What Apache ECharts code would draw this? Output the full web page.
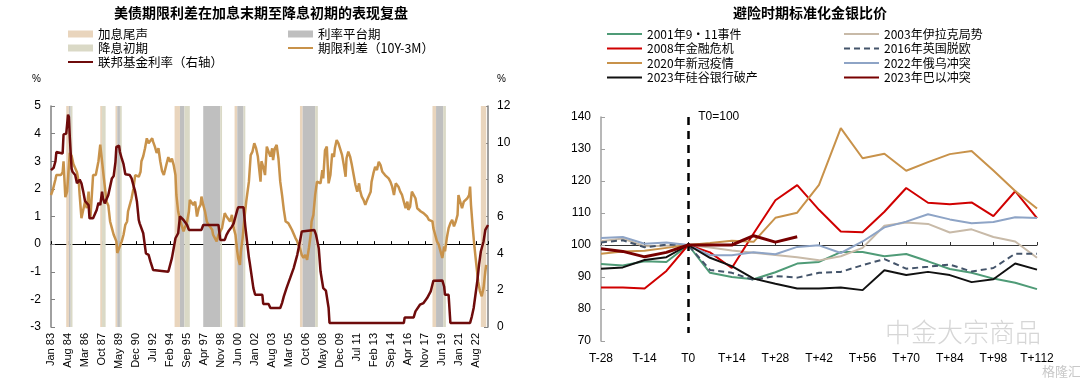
<!DOCTYPE html>
<html><head><meta charset="utf-8">
<script src="https://cdn.jsdelivr.net/npm/echarts@6/dist/echarts.min.js"></script>
<style>html,body{margin:0;padding:0;background:#fff}#c{width:1080px;height:382px}</style>
</head><body><div id="c"></div>
<script>
// ---------- Left chart data (x = months since Jan 1983) ----------
const leftTickLabels = ['Jan 83','Aug 84','Mar 86','Oct 87','May 89','Dec 90','Jul 92','Feb 94','Sep 95','Apr 97','Nov 98','Jun 00','Jan 02','Aug 03','Mar 05','Oct 06','May 08','Dec 09','Jul 11','Feb 13','Sep 14','Apr 16','Nov 17','Jun 19','Jan 21','Aug 22'];
const hikeEndBands = [[17,20],[55,57],[72,74],[138,144],[205,208],[278,281],[426,430],[480,486]];
const plateauBands = [[20,22],[74,77],[144,149],[170,189],[208,215],[281,295],[430,438]];
const cutStartBands = [[22,24],[57,61],[77,79],[149,155],[189,191],[215,217],[295,298],[438,441]];
const termSpread = [[0,1.78],[2,1.96],[5,2.35],[6,2.5],[8,2.55],[11,2.5],[13,2.6],[14,3.0],[16,1.7],[18,1.9],[19,2.4],[21,3.3],[23,3.2],[25,2.9],[27,2.95],[29,2.6],[31,2.25],[32,1.78],[34,0.94],[35,0.88],[38,1.54],[40,1.3],[42,1.9],[43,1.2],[44,0.94],[47,2.5],[50,2.5],[53,3.0],[55,3.6],[57,3.0],[59,2.4],[60,2.4],[62,1.54],[64,1.4],[66,0.82],[68,0.58],[70,0.34],[73,0.1],[74,-0.32],[76,-0.15],[79,0.1],[81,0.34],[83,0.7],[85,0.82],[86,1.18],[88,1.42],[90,1.66],[92,2.0],[94,2.5],[96,2.56],[98,2.44],[100,2.62],[101,3.0],[103,3.18],[105,3.47],[107,3.83],[109,3.65],[111,3.59],[113,3.83],[114,3.71],[116,3.53],[118,3.3],[120,3.47],[122,3.0],[124,2.65],[126,2.5],[127,2.44],[129,2.9],[131,3.15],[133,2.98],[135,3.1],[137,2.86],[139,2.5],[140,1.78],[142,1.18],[144,0.88],[146,0.82],[148,0.46],[150,0.4],[152,0.82],[154,1.18],[155,1.6],[157,1.66],[159,1.42],[161,1.54],[163,1.0],[165,1.3],[167,1.42],[168,1.72],[170,1.42],[172,1.18],[174,0.82],[176,0.7],[178,0.64],[180,0.52],[181,0.34],[183,0.22],[185,0.1],[187,0.34],[189,0.46],[191,0.58],[193,0.94],[194,1.12],[196,1.0],[198,0.94],[200,0.82],[202,1.06],[204,0.58],[206,0.34],[208,-0.26],[209,-0.5],[211,-0.75],[212,-0.27],[214,0.22],[216,0.94],[218,1.54],[219,1.78],[221,2.26],[223,3.22],[225,3.35],[227,3.65],[229,3.47],[231,3.17],[232,2.86],[234,2.26],[235,3.0],[237,2.8],[239,2.5],[241,3.53],[243,3.35],[245,3.17],[247,3.47],[248,3.04],[250,3.47],[252,3.59],[254,3.1],[256,2.26],[258,1.78],[260,1.24],[262,0.82],[263,0.88],[265,0.76],[267,0.64],[269,0.52],[271,0.46],[273,0.22],[275,0.1],[276,-0.02],[278,-0.14],[280,-0.39],[282,-0.5],[284,-0.39],[286,-0.57],[288,-0.14],[290,0.34],[291,0.82],[293,1.06],[295,1.78],[297,2.26],[299,2.32],[301,2.2],[303,2.68],[304,2.38],[306,3.4],[308,3.53],[310,2.2],[312,2.5],[314,3.28],[316,3.16],[317,3.47],[319,3.77],[321,3.65],[323,3.65],[325,3.23],[327,2.86],[329,2.44],[330,3.11],[332,3.35],[334,3.17],[336,2.86],[338,2.5],[340,2.14],[342,1.9],[344,2.2],[345,1.96],[347,1.72],[349,1.6],[351,1.42],[353,1.6],[355,1.66],[357,1.9],[358,2.26],[360,2.56],[362,2.8],[364,2.68],[366,2.98],[368,2.86],[370,2.62],[372,2.68],[373,2.5],[375,2.44],[377,2.38],[379,2.26],[381,2.08],[383,1.78],[385,2.2],[386,2.26],[388,2.08],[390,1.9],[392,1.78],[394,1.54],[396,1.3],[398,1.54],[399,1.24],[401,1.36],[403,1.9],[405,1.96],[407,1.66],[409,1.3],[411,1.24],[413,1.18],[414,1.24],[416,1.12],[418,1.06],[420,1.0],[422,0.88],[424,0.82],[426,0.82],[427,0.58],[429,0.34],[431,0.1],[433,-0.02],[435,-0.26],[437,-0.5],[439,-0.08],[440,-0.26],[442,0.22],[444,0.58],[446,0.76],[448,0.88],[450,0.64],[452,0.82],[454,1.06],[455,1.78],[457,1.54],[459,1.3],[461,1.54],[463,1.48],[465,1.66],[467,1.78],[468,2.08],[469,1.42],[471,0.58],[473,-0.14],[475,-0.75],[477,-1.35],[479,-1.7],[481,-1.89],[483,-1.59],[485,-0.99],[486,-0.75]];
const fedFunds = [[0,8.52],[3,8.65],[5,9.0],[6,9.5],[13,9.42],[14,10.45],[17,10.5],[18,11.0],[19,11.53],[20,11.4],[21,10.3],[23,8.6],[24,8.43],[25,8.47],[27,8.25],[29,7.8],[32,8.0],[34,7.8],[36,7.35],[38,6.84],[42,6.62],[43,5.9],[47,5.9],[51,6.35],[53,6.75],[55,6.62],[57,7.35],[58,7.0],[60,6.71],[62,6.62],[64,7.17],[68,8.07],[70,8.2],[72,8.97],[73,9.78],[76,9.84],[77,9.5],[79,9.15],[81,8.84],[83,8.29],[88,8.25],[90,8.07],[92,7.7],[94,7.35],[96,6.8],[98,5.81],[99,5.63],[103,5.09],[106,4.0],[109,3.92],[111,3.56],[114,3.1],[116,3.0],[131,3.0],[135,3.74],[137,4.28],[139,4.82],[142,5.09],[144,6.0],[148,5.81],[152,5.54],[154,5.27],[168,5.27],[170,5.54],[187,5.54],[189,4.73],[194,4.73],[196,5.0],[198,5.18],[202,5.45],[204,5.63],[208,6.35],[209,6.5],[215,6.5],[217,5.45],[221,3.77],[222,3.47],[226,2.11],[228,1.75],[236,1.75],[237,1.25],[243,1.25],[245,1.03],[256,1.03],[258,1.3],[260,1.66],[263,2.11],[267,2.65],[271,3.2],[275,3.92],[278,4.64],[280,5.18],[282,5.27],[294,5.27],[296,5.0],[299,4.28],[301,3.01],[304,2.11],[307,1.97],[309,1.97],[310,1.03],[311,0.22],[394,0.22],[395,0.52],[405,0.52],[407,0.85],[412,1.21],[416,1.3],[420,1.57],[424,1.93],[427,2.51],[437,2.53],[439,2.2],[440,1.75],[444,1.75],[446,0.22],[468,0.22],[470,0.58],[472,1.03],[474,1.75],[476,2.47],[478,3.38],[480,4.1],[483,4.64],[485,5.27],[488,5.54]];

// ---------- Right chart data ----------
const tDays = ['T-28','T-21','T-14','T-7','T0','T+7','T+14','T+21','T+28','T+35','T+42','T+49','T+56','T+63','T+70','T+77','T+84','T+91','T+98','T+105','T+112'];
const sept11   = [94.1,93.6,94.9,94.7,100,91.3,90.0,89.3,91.5,94.2,94.7,97.8,97.8,96.5,97.2,94.9,92.5,91.3,89.5,88.2,86.2];
const iraq     = [101.2,102.0,99.6,99.8,100,99.2,98.3,97.6,96.9,96.2,95.2,96.5,99.1,106.0,107.0,106.6,103.9,104.9,102.5,101.1,96.0];
const gfc      = [86.7,86.7,86.4,91.9,100,97.7,92.8,103.6,114.0,118.7,111.0,104.2,104.0,110.4,117.8,113.2,112.7,113.3,109.0,116.8,108.4];
const brexit   = [100.8,101.5,99.3,100.1,100,92.2,91.3,89.1,90.3,89.8,91.3,91.6,93.7,95.6,92.6,93.2,93.9,91.7,92.8,97.3,97.3];
const covid    = [97.3,98.0,98.2,99.1,100,100.6,101.3,101.0,108.5,110.1,118.8,136.5,127.1,128.5,123.2,125.9,128.4,129.4,123.3,116.9,111.4];
const ukraine  = [102.2,102.5,100.4,100.8,100,96.8,96.8,97.7,97.1,99.4,99.9,97.5,101.1,105.5,107.3,109.6,108.0,106.8,107.2,108.7,108.4];
const svb      = [92.6,93.0,95.3,96.2,100,96.0,93.4,89.5,87.9,86.4,86.4,86.7,85.9,92.1,90.6,91.6,90.6,88.4,89.3,94.2,92.3];
const israel   = [98.8,98.0,96.3,97.7,100,100,100,102.9,100.9,102.6,null,null,null,null,null,null,null,null,null,null,null];

const FONT = "'Liberation Sans', Arial, 'Noto Sans CJK SC', sans-serif";
const CJK = "'Noto Sans CJK SC', 'Liberation Sans', sans-serif";
const chart = echarts.init(document.getElementById('c'), null, {renderer: 'canvas'});

function bandSeries(name, color, bands) {
  return {
    name, type: 'line', data: [], xAxisIndex: 0, yAxisIndex: 0, color: color,
    itemStyle: {color}, lineStyle: {color}, showSymbol: false, silent: true, z: 1,
    markArea: {silent: true, itemStyle: {color, opacity: 1}, data: bands.map(b => [{xAxis: b[0]}, {xAxis: b[1]}])}
  };
}
function rLine(name, data, color, width, dash, z) {
  return {name, type: 'line', data, xAxisIndex: 2, yAxisIndex: 2, showSymbol: false, symbol: 'none',
    color, lineStyle: {color, width, type: dash || 'solid'}, z: z || 3, connectNulls: false};
}
const noSym = name => ({name, itemStyle: {opacity: 0}});
const legText = {fontFamily: CJK, fontSize: 12.5, color: '#000', lineHeight: 14};

const option = {
  animation: false,
  textStyle: {fontFamily: FONT},
  title: [
    {text: '美债期限利差在加息末期至降息初期的表现复盘', left: 256, top: 1, textAlign: 'center',
     textStyle: {fontFamily: CJK, fontSize: 14, fontWeight: 'bold', color: '#000'}},
    {text: '避险时期标准化金银比价', left: 805, top: 1, textAlign: 'center',
     textStyle: {fontFamily: CJK, fontSize: 14, fontWeight: 'bold', color: '#000'}}
  ],
  legend: [
    {left: 67, top: 27, padding: 0, orient: 'vertical', itemWidth: 25, itemHeight: 7, itemGap: 0, selectedMode: false,
     textStyle: legText,
     data: [{name: '加息尾声', icon: 'rect'}, {name: '降息初期', icon: 'rect'}, noSym('联邦基金利率（右轴）')]},
    {left: 287, top: 27, padding: 0, orient: 'vertical', itemWidth: 25, itemHeight: 7, itemGap: 0, selectedMode: false,
     textStyle: legText,
     data: [{name: '利率平台期', icon: 'rect'}, noSym('期限利差（10Y-3M）')]},
    {left: 606, top: 27, padding: 0, orient: 'vertical', itemWidth: 35, itemHeight: 7, itemGap: 0.5, selectedMode: false,
     textStyle: {fontFamily: CJK, fontSize: 12, color: '#000', lineHeight: 14},
     data: ['2001年9・11事件', '2008年金融危机', '2020年新冠疫情', '2023年硅谷银行破产'].map(noSym)},
    {left: 843, top: 27, padding: 0, orient: 'vertical', itemWidth: 35, itemHeight: 7, itemGap: 0.5, selectedMode: false,
     textStyle: {fontFamily: CJK, fontSize: 12, color: '#000', lineHeight: 14},
     data: ['2003年伊拉克局势', '2016年英国脱欧', '2022年俄乌冲突', '2023年巴以冲突'].map(noSym)}
  ],
  grid: [
    {left: 51, top: 106, width: 437, height: 221},
    {left: 601, top: 117, width: 436, height: 224}
  ],
  xAxis: [
    {gridIndex: 0, type: 'value', min: 0, max: 488, interval: 19,
     axisLine: {show: true, onZero: true, onZeroAxisIndex: 0, lineStyle: {color: '#000', width: 1}},
     axisTick: {show: true, inside: true, length: 3, lineStyle: {color: '#000'}},
     axisLabel: {show: false}, splitLine: {show: false}},
    {gridIndex: 0, type: 'value', min: 0, max: 488, interval: 19, position: 'bottom',
     axisLine: {show: false, onZero: false}, axisTick: {show: false}, splitLine: {show: false},
     axisLabel: {show: true, rotate: 90, margin: 6, fontSize: 11, color: '#000', fontFamily: FONT,
       showMaxLabel: false, hideOverlap: false,
       formatter: v => (v % 19 === 0 && leftTickLabels[v / 19] !== undefined) ? leftTickLabels[v / 19] : ''}},
    {gridIndex: 1, type: 'category', data: tDays, boundaryGap: false,
     axisLine: {show: true, onZero: true, onZeroAxisIndex: 3, lineStyle: {color: '#333', width: 1}},
     axisTick: {show: true, inside: true, length: 3, interval: 1, lineStyle: {color: '#333'}},
     axisLabel: {show: false}, splitLine: {show: false}},
    {gridIndex: 1, type: 'category', data: tDays, boundaryGap: false, position: 'bottom',
     axisLine: {show: false, onZero: false}, axisTick: {show: false}, splitLine: {show: false},
     axisLabel: {show: true, interval: 1, margin: 12, fontSize: 12, color: '#000', fontFamily: FONT}}
  ],
  yAxis: [
    {gridIndex: 0, type: 'value', min: -3, max: 5, interval: 1, position: 'left',
     name: '%', nameLocation: 'end', nameGap: 22,
     nameTextStyle: {fontSize: 10, color: '#000', align: 'right', padding: [0, 10, 0, 0]},
     axisLine: {show: true, onZero: false, lineStyle: {color: '#808080', width: 1.5}},
     axisTick: {show: true, inside: true, length: 4, lineStyle: {color: '#808080'}},
     axisLabel: {fontSize: 12, color: '#000', margin: 10}, splitLine: {show: false}},
    {gridIndex: 0, type: 'value', min: 0, max: 12, interval: 2, position: 'right',
     name: '%', nameLocation: 'end', nameGap: 22,
     nameTextStyle: {fontSize: 10, color: '#000', align: 'left', padding: [0, 0, 0, 9]},
     axisLine: {show: true, onZero: false, lineStyle: {color: '#808080', width: 1.5}},
     axisTick: {show: true, inside: true, length: 4, lineStyle: {color: '#808080'}},
     axisLabel: {fontSize: 12, color: '#000', margin: 9}, splitLine: {show: false}},
    {gridIndex: 1, type: 'value', min: 70, max: 140, interval: 10, position: 'left',
     axisLine: {show: true, onZero: false, lineStyle: {color: '#A0A0A0', width: 1.5}},
     axisTick: {show: true, inside: true, length: 4, lineStyle: {color: '#A0A0A0'}},
     axisLabel: {fontSize: 12, color: '#000', margin: 10}, splitLine: {show: false}},
    {gridIndex: 1, type: 'value', min: -30, max: 40, show: false,
     axisLine: {onZero: false}, splitLine: {show: false}}
  ],
  series: [
    bandSeries('加息尾声', '#E9D5BD', hikeEndBands),
    bandSeries('利率平台期', '#BFBFBF', plateauBands),
    bandSeries('降息初期', '#DAD9C6', cutStartBands),
    {name: '期限利差（10Y-3M）', type: 'line', data: termSpread, xAxisIndex: 0, yAxisIndex: 0,
     showSymbol: false, symbol: 'none', color: '#C8924A', lineStyle: {color: '#C8924A', width: 2.5}, z: 3},
    {name: '联邦基金利率（右轴）', type: 'line', data: fedFunds, xAxisIndex: 0, yAxisIndex: 1,
     showSymbol: false, symbol: 'none', color: '#6E0B0B', lineStyle: {color: '#6E0B0B', width: 2.5}, z: 4},

    Object.assign(rLine('2001年9・11事件', sept11, '#4F9B77', 2), {
      markLine: {silent: true, symbol: 'none', label: {show: false},
        lineStyle: {color: '#000', width: 2.5, type: [8, 6]},
        data: [[{coord: ['T0', 140]}, {coord: ['T0', 72.5]}]]},
      markPoint: {silent: true, symbol: 'circle', symbolSize: 0,
        label: {show: true, position: 'right', distance: 10, formatter: 'T0=100', color: '#000', fontSize: 12, fontFamily: FONT},
        data: [{coord: ['T0', 140]}]}
    }),
    rLine('2003年伊拉克局势', iraq, '#C8BAA8', 2),
    rLine('2008年金融危机', gfc, '#D00000', 2),
    rLine('2016年英国脱欧', brexit, '#44546A', 2, [6, 4]),
    rLine('2020年新冠疫情', covid, '#C8924A', 2),
    rLine('2022年俄乌冲突', ukraine, '#8EA4C6', 2),
    rLine('2023年硅谷银行破产', svb, '#111111', 2),
    rLine('2023年巴以冲突', israel, '#780000', 3, null, 5)
  ],
  graphic: [
    {type: 'text', left: 885, top: 319, silent: true,
     style: {text: '中金大宗商品', fill: '#D6D6D6', font: '300 26px ' + CJK}},
    {type: 'text', left: 1042, top: 365, silent: true,
     style: {text: '格隆汇', fill: '#C8C8C8', font: '13px ' + CJK}}
  ]
};
chart.setOption(option);
</script></body></html>
